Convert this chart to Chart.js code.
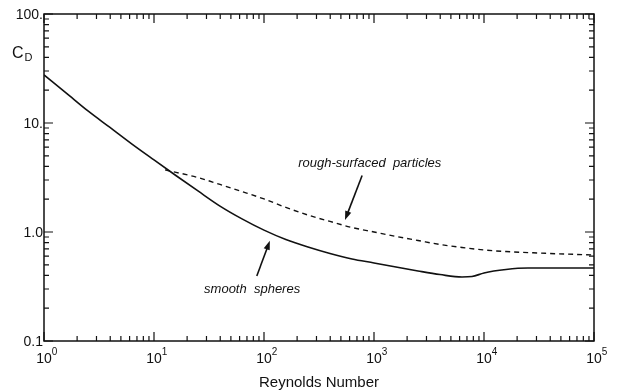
<!DOCTYPE html>
<html>
<head>
<meta charset="utf-8">
<script src="https://cdn.jsdelivr.net/npm/chart.js@4.4.1/dist/chart.umd.min.js"></script>
<style>
  body { margin: 0; background: #fff; }
  #wrap { width: 619px; height: 392px; }
</style>
</head>
<body>
<div id="wrap"><canvas id="myChart"></canvas></div>
<script>
// smooth spheres (Reynolds number, drag coefficient)
var smoothRe = [1, 1.585, 2.51, 3.98, 6.31, 10, 15.8, 25.1, 39.8, 63.1, 100, 158, 251, 398, 631, 1000, 1585, 2512, 3981, 6310, 7780, 10000, 15850, 25120, 100000];
var smoothCd = [27.6, 18.9, 12.9, 9.1, 6.4, 4.58, 3.3, 2.38, 1.73, 1.32, 1.04, 0.853, 0.728, 0.635, 0.565, 0.52, 0.477, 0.439, 0.407, 0.386, 0.39, 0.421, 0.453, 0.467, 0.467];

// rough-surfaced particles
var roughRe = [12.6, 25.1, 39.8, 63.1, 100, 158, 251, 398, 631, 1000, 1585, 2512, 3981, 6310, 10000, 15850, 39810, 100000];
var roughCd = [3.71, 3.16, 2.73, 2.35, 2.01, 1.68, 1.43, 1.25, 1.1, 1.0, 0.91, 0.836, 0.768, 0.721, 0.684, 0.662, 0.635, 0.615];

// tick labels
var xTickValues = [1, 10, 100, 1000, 10000, 100000];
var xTickExp = ['0', '1', '2', '3', '4', '5'];
var yTickValues = [0.1, 1, 10, 100];
var yTickLabels = ['0.1', '1.0', '10.', '100.'];

var xTitle = 'Reynolds Number';
var roughLabel = 'rough-surfaced  particles';
var smoothLabel = 'smooth  spheres';

function toPoints(xs, ys) {
  var pts = [];
  for (let i = 0; i < xs.length; i++) {
    pts.push({ x: xs[i], y: ys[i] });
  }
  return pts;
}

var FONT = '"Liberation Sans", Arial, Helvetica, sans-serif';

// arrow helper, coords given in data units
function drawArrow(ctx, xs, ys, x0, y0, x1, y1) {
  var ax = xs.getPixelForValue(x0), ay = ys.getPixelForValue(y0);
  var bx = xs.getPixelForValue(x1), by = ys.getPixelForValue(y1);
  var ang = Math.atan2(by - ay, bx - ax);
  ctx.beginPath();
  ctx.moveTo(ax, ay);
  ctx.lineTo(bx - 6 * Math.cos(ang), by - 6 * Math.sin(ang));
  ctx.lineWidth = 1.6;
  ctx.stroke();
  ctx.beginPath();
  ctx.moveTo(bx, by);
  ctx.lineTo(bx - 9 * Math.cos(ang) + 3.2 * Math.sin(ang), by - 9 * Math.sin(ang) - 3.2 * Math.cos(ang));
  ctx.lineTo(bx - 9 * Math.cos(ang) - 3.2 * Math.sin(ang), by - 9 * Math.sin(ang) + 3.2 * Math.cos(ang));
  ctx.closePath();
  ctx.fill();
}

var axesPlugin = {
  id: 'axesPlugin',
  afterDraw: function (chart) {
    var ctx = chart.ctx;
    var xs = chart.scales.x, ys = chart.scales.y;
    var a = chart.chartArea;
    ctx.save();
    ctx.strokeStyle = '#111';
    ctx.fillStyle = '#111';

    // frame
    ctx.lineWidth = 1.5;
    ctx.strokeRect(a.left, a.top, a.right - a.left, a.bottom - a.top);

    // x ticks (bottom & top, inward)
    ctx.lineWidth = 1.2;
    for (let d = 0; d <= 5; d++) {
      for (let m = 1; m <= 9; m++) {
        var v = m * Math.pow(10, d);
        if (v > 100000) break;
        var px = xs.getPixelForValue(v);
        var len = m === 1 ? 9 : 5;
        ctx.beginPath();
        ctx.moveTo(px, a.bottom); ctx.lineTo(px, a.bottom - len);
        ctx.moveTo(px, a.top); ctx.lineTo(px, a.top + len);
        ctx.stroke();
      }
    }
    // y ticks (left & right, inward)
    for (let d = -1; d <= 2; d++) {
      for (let m = 1; m <= 9; m++) {
        var v = m * Math.pow(10, d);
        if (v > 100) break;
        var py = ys.getPixelForValue(v);
        var len = m === 1 ? 9 : 5;
        ctx.beginPath();
        ctx.moveTo(a.left, py); ctx.lineTo(a.left + len, py);
        ctx.moveTo(a.right, py); ctx.lineTo(a.right - len, py);
        ctx.stroke();
      }
    }

    // y tick labels
    ctx.font = '14px ' + FONT;
    ctx.textAlign = 'right';
    ctx.textBaseline = 'middle';
    for (let i = 0; i < yTickValues.length; i++) {
      ctx.fillText(yTickLabels[i], a.left - 1, ys.getPixelForValue(yTickValues[i]) + 1);
    }

    // x tick labels: 10 with superscript exponent
    ctx.textBaseline = 'alphabetic';
    for (let i = 0; i < xTickValues.length; i++) {
      var px = xs.getPixelForValue(xTickValues[i]);
      ctx.font = '14px ' + FONT;
      ctx.textAlign = 'center';
      ctx.fillText('10', px, a.bottom + 22);
      var w = ctx.measureText('10').width;
      ctx.font = '10px ' + FONT;
      ctx.textAlign = 'left';
      ctx.fillText(xTickExp[i], px + w / 2, a.bottom + 14);
    }

    // axis titles
    ctx.font = '15px ' + FONT;
    ctx.textAlign = 'center';
    ctx.fillText(xTitle, (a.left + a.right) / 2, a.bottom + 46);

    ctx.textAlign = 'left';
    ctx.font = '16px ' + FONT;
    ctx.fillText('C', 12, 58);
    var cw = ctx.measureText('C').width;
    ctx.font = '11px ' + FONT;
    ctx.fillText('D', 12 + cw + 1, 61);

    // annotations
    ctx.font = 'italic 13px ' + FONT;
    ctx.textAlign = 'center';
    ctx.textBaseline = 'middle';
    ctx.fillText(roughLabel, xs.getPixelForValue(915), ys.getPixelForValue(4.3));
    ctx.fillText(smoothLabel, xs.getPixelForValue(78), ys.getPixelForValue(0.3));
    drawArrow(ctx, xs, ys, 780, 3.3, 545, 1.29);
    drawArrow(ctx, xs, ys, 86, 0.395, 113, 0.83);

    ctx.restore();
  }
};

var myChart = new Chart(document.getElementById('myChart').getContext('2d'), {
  type: 'line',
  data: {
    datasets: [{
      label: 'smooth spheres',
      data: toPoints(smoothRe, smoothCd),
      borderColor: '#111',
      borderWidth: 1.6,
      pointRadius: 0,
      cubicInterpolationMode: 'monotone',
      fill: false
    }, {
      label: 'rough-surfaced particles',
      data: toPoints(roughRe, roughCd),
      borderColor: '#111',
      borderWidth: 1.4,
      borderDash: [5, 4],
      pointRadius: 0,
      cubicInterpolationMode: 'monotone',
      fill: false
    }]
  },
  options: {
    responsive: true,
    maintainAspectRatio: false,
    animation: false,
    layout: {
      padding: { left: 44, right: 25, top: 14, bottom: 51 }
    },
    plugins: {
      legend: { display: false },
      tooltip: { enabled: false }
    },
    scales: {
      x: { type: 'logarithmic', min: 1, max: 100000, display: false },
      y: { type: 'logarithmic', min: 0.1, max: 100, display: false }
    }
  },
  plugins: [axesPlugin]
});
</script>
</body>
</html>
